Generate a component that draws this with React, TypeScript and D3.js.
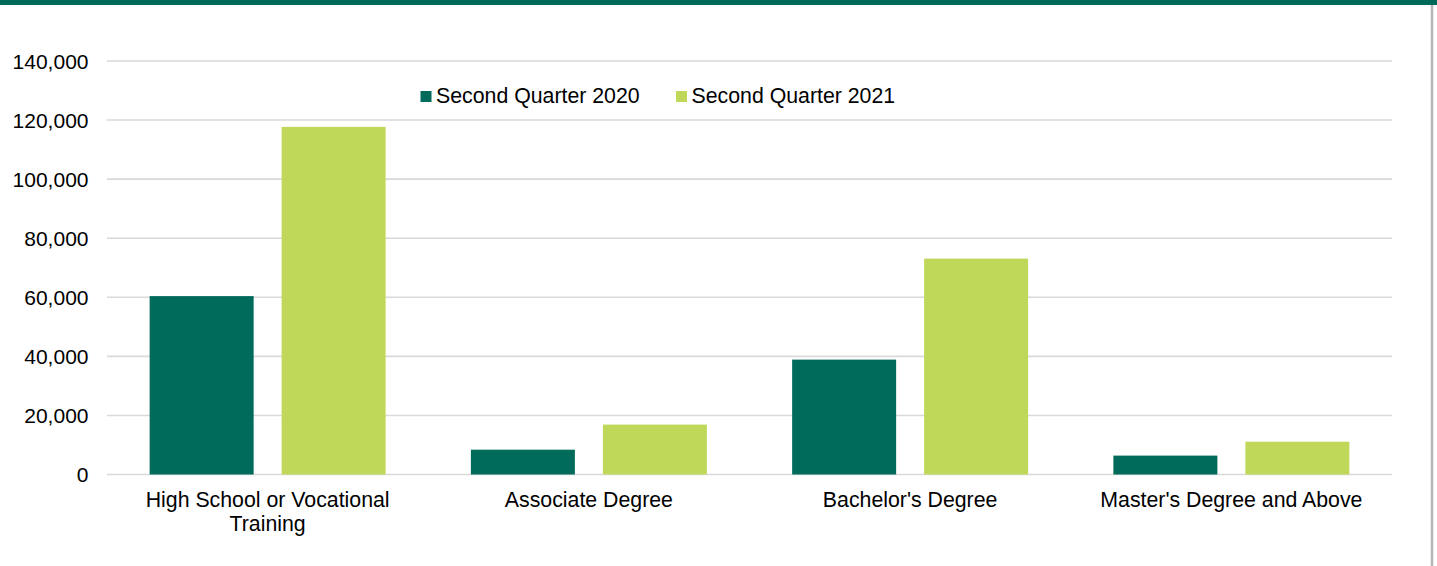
import React from "react";
import * as d3 from "d3";

const categories: string[][] = [
  ["High School or Vocational", "Training"],
  ["Associate Degree"],
  ["Bachelor's Degree"],
  ["Master's Degree and Above"],
];
const seriesNames = ["Second Quarter 2020", "Second Quarter 2021"];
const q2020 = [60400, 8400, 38900, 6400];
const q2021 = [117700, 16900, 73100, 11100];
const yTicks = [0, 20000, 40000, 60000, 80000, 100000, 120000, 140000];
const colors = ["#006B5B", "#C0D85A"];

const W = 1437;
const H = 566;
const FONT = "'Liberation Sans', Arial, sans-serif";

export default function App() {
  const catKeys = categories.map((c) => c.join(" "));
  const x = d3.scaleBand<string>().domain(catKeys).range([107, 1392]).paddingInner(0).paddingOuter(0);
  const xs = d3
    .scaleBand<number>()
    .domain([0, 1])
    .range([0, x.bandwidth()])
    .paddingInner(0.212)
    .paddingOuter(0.323);
  const y = d3.scaleLinear().domain([0, 140000]).range([474.5, 61]);
  const fmt = d3.format(",");
  const series = [q2020, q2021];

  return (
    <svg
      width={W}
      height={H}
      style={{ position: "absolute", left: 0, top: 0, display: "block", background: "#fff" }}
      fontFamily={FONT}
    >
      <rect x={0} y={0} width={W} height={5} fill="#006A5A" />
      <line x1={1432} x2={1432} y1={5} y2={H} stroke="#B5B5B5" strokeWidth={2.5} />
      {yTicks.map((t) => (
        <g key={t}>
          <line x1={107} x2={1392} y1={y(t)} y2={y(t)} stroke="#D9D9D9" strokeWidth={1.6} />
          <text x={88.5} y={y(t)} dy="0.36em" textAnchor="end" fontSize={21} fill="#000">
            {fmt(t)}
          </text>
        </g>
      ))}
      {series.map((vals, si) =>
        vals.map((v, ci) => (
          <rect
            key={`${si}-${ci}`}
            x={(x(catKeys[ci]) ?? 0) + (xs(si) ?? 0)}
            y={y(v)}
            width={xs.bandwidth()}
            height={y(0) - y(v)}
            fill={colors[si]}
          />
        ))
      )}
      {categories.map((lines, ci) => (
        <text
          key={ci}
          x={(x(catKeys[ci]) ?? 0) + x.bandwidth() / 2}
          y={507}
          textAnchor="middle"
          fontSize={21.3}
          fill="#000"
        >
          {lines.map((l, li) => (
            <tspan key={li} x={(x(catKeys[ci]) ?? 0) + x.bandwidth() / 2} dy={li === 0 ? 0 : 23.5}>
              {l}
            </tspan>
          ))}
        </text>
      ))}
      {seriesNames.map((name, si) => {
        const lx = [420.5, 676][si];
        return (
          <g key={name}>
            <rect x={lx} y={91} width={11} height={11} fill={colors[si]} />
            <text x={lx + 15.5} y={103} fontSize={21.3} fill="#000">
              {name}
            </text>
          </g>
        );
      })}
    </svg>
  );
}
